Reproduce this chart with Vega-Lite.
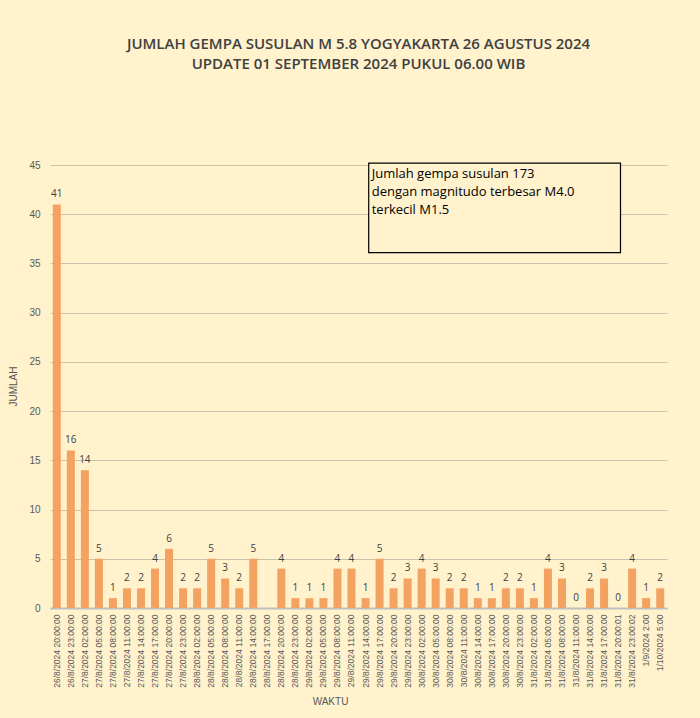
{
  "$schema": "https://vega.github.io/schema/vega-lite/v6.json",
  "autosize": {"type": "none"},
  "width": 617,
  "height": 443,
  "padding": {"left": 50, "top": 165, "right": 33, "bottom": 110},
  "background": "#FFF2CC",
  "config": {
    "view": {"stroke": null},
    "font": "Liberation Sans",
    "mark": {"invalid": "break-paths-show-domains"},
    "axis": {"labelFont": "Liberation Sans", "titleFont": "Liberation Sans"}
  },
  "title": {
    "text": ["JUMLAH GEMPA SUSULAN M 5.8 YOGYAKARTA 26 AGUSTUS 2024", "UPDATE 01 SEPTEMBER 2024 PUKUL 06.00 WIB"],
    "font": "Open Sans",
    "fontSize": 15,
    "fontWeight": 600,
    "color": "#404040",
    "lineHeight": 20,
    "anchor": "middle",
    "offset": 88
  },
  "data": {
    "values": [
      {"waktu": "26/8/2024  20:00:00", "jumlah": 41},
      {"waktu": "26/8/2024  23:00:00", "jumlah": 16},
      {"waktu": "27/8/2024  02:00:00", "jumlah": 14},
      {"waktu": "27/8/2024  05:00:00", "jumlah": 5},
      {"waktu": "27/8/2024  08:00:00", "jumlah": 1},
      {"waktu": "27/8/2024  11:00:00", "jumlah": 2},
      {"waktu": "27/8/2024  14:00:00", "jumlah": 2},
      {"waktu": "27/8/2024  17:00:00", "jumlah": 4},
      {"waktu": "27/8/2024  20:00:00", "jumlah": 6},
      {"waktu": "27/8/2024  23:00:00", "jumlah": 2},
      {"waktu": "28/8/2024  02:00:00", "jumlah": 2},
      {"waktu": "28/8/2024  05:00:00", "jumlah": 5},
      {"waktu": "28/8/2024  08:00:00", "jumlah": 3},
      {"waktu": "28/8/2024  11:00:00", "jumlah": 2},
      {"waktu": "28/8/2024  14:00:00", "jumlah": 5},
      {"waktu": "28/8/2024  17:00:00", "jumlah": null},
      {"waktu": "28/8/2024  20:00:00", "jumlah": 4},
      {"waktu": "28/8/2024  23:00:00", "jumlah": 1},
      {"waktu": "29/8/2024  02:00:00", "jumlah": 1},
      {"waktu": "29/8/2024  05:00:00", "jumlah": 1},
      {"waktu": "29/8/2024  08:00:00", "jumlah": 4},
      {"waktu": "29/8/2024  11:00:00", "jumlah": 4},
      {"waktu": "29/8/2024  14:00:00", "jumlah": 1},
      {"waktu": "29/8/2024  17:00:00", "jumlah": 5},
      {"waktu": "29/8/2024  20:00:00", "jumlah": 2},
      {"waktu": "29/8/2024  23:00:00", "jumlah": 3},
      {"waktu": "30/8/2024  02:00:00", "jumlah": 4},
      {"waktu": "30/8/2024  05:00:00", "jumlah": 3},
      {"waktu": "30/8/2024  08:00:00", "jumlah": 2},
      {"waktu": "30/8/2024  11:00:00", "jumlah": 2},
      {"waktu": "30/8/2024  14:00:00", "jumlah": 1},
      {"waktu": "30/8/2024  17:00:00", "jumlah": 1},
      {"waktu": "30/8/2024  20:00:00", "jumlah": 2},
      {"waktu": "30/8/2024  23:00:00", "jumlah": 2},
      {"waktu": "31/8/2024  02:00:00", "jumlah": 1},
      {"waktu": "31/8/2024  05:00:00", "jumlah": 4},
      {"waktu": "31/8/2024  08:00:00", "jumlah": 3},
      {"waktu": "31/8/2024 11:00:00", "jumlah": 0},
      {"waktu": "31/8/2024 14:00:00", "jumlah": 2},
      {"waktu": "31/8/2024 17:00:00", "jumlah": 3},
      {"waktu": "31/8/2024 20:00:01", "jumlah": 0},
      {"waktu": "31/8/2024 23:00:02", "jumlah": 4},
      {"waktu": "1/9/2024 2:00", "jumlah": 1},
      {"waktu": "1/10/2024 5:00", "jumlah": 2}
    ]
  },
  "encoding": {
    "x": {
      "field": "waktu",
      "type": "nominal",
      "sort": null,
      "scale": {"paddingInner": 0.43, "paddingOuter": 0.2},
      "axis": {
        "title": "WAKTU",
        "titleFontSize": 10,
        "titleFontWeight": "normal",
        "titleColor": "#595959",
        "titleX": 280,
        "titleY": 96,
        "titleBaseline": "alphabetic",
        "labelAngle": -90,
        "labelFontSize": 8.5,
        "labelColor": "#595959",
        "labelPadding": 6,
        "ticks": false,
        "domainColor": "#BFBFBF",
        "domainWidth": 2
      }
    },
    "y": {
      "field": "jumlah",
      "type": "quantitative",
      "scale": {"domain": [0, 45]},
      "axis": {
        "title": "JUMLAH",
        "titleFontSize": 10,
        "titleFontWeight": "normal",
        "titleColor": "#595959",
        "titleX": -34,
        "titleY": 221,
        "titleBaseline": "alphabetic",
        "values": [0, 5, 10, 15, 20, 25, 30, 35, 40, 45],
        "labelFontSize": 10,
        "labelColor": "#595959",
        "labelPadding": 10,
        "ticks": false,
        "domain": false,
        "gridColor": "#C8C2AE",
        "gridWidth": 1
      }
    }
  },
  "layer": [
    {"mark": {"type": "bar", "color": "#F4A261"}},
    {
      "transform": [{"filter": "datum.jumlah != null"}],
      "mark": {"type": "text", "baseline": "bottom", "dy": -5, "fontSize": 10, "color": "#404040", "font": "Open Sans"},
      "encoding": {"text": {"field": "jumlah", "type": "quantitative"}}
    },
    {
      "data": {"values": [{"x1": "29/8/2024  14:00:00", "x2": "31/8/2024 20:00:01", "y1": 36.1, "y2": 45.2, "note": ["Jumlah gempa susulan 173", "dengan magnitudo terbesar M4.0", "terkecil M1.5"]}]},
      "layer": [
        {
          "mark": {"type": "rect", "fill": "#FFF2CC", "stroke": "#000000", "strokeWidth": 1.2, "clip": false},
          "encoding": {
            "x": {"field": "x1", "type": "nominal", "bandPosition": 0.9},
            "x2": {"field": "x2", "bandPosition": 0.8},
            "y": {"field": "y1", "type": "quantitative"},
            "y2": {"field": "y2"}
          }
        },
        {
          "mark": {"type": "text", "align": "left", "baseline": "top", "dx": 3, "dy": 5, "fontSize": 13, "lineHeight": 18, "color": "#000000", "font": "Open Sans"},
          "encoding": {
            "x": {"field": "x1", "type": "nominal", "bandPosition": 0.9},
            "y": {"field": "y2", "type": "quantitative"},
            "text": {"field": "note"}
          }
        }
      ]
    }
  ]
}
